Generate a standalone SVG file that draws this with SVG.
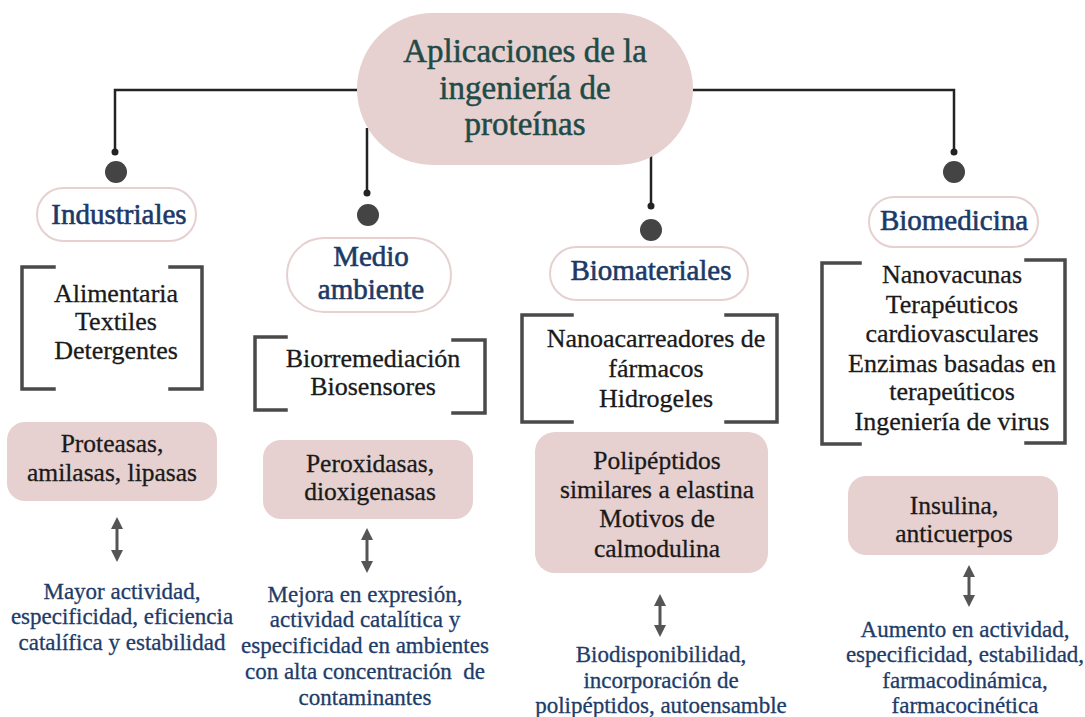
<svg xmlns="http://www.w3.org/2000/svg" width="1085" height="717" viewBox="0 0 1085 717">
<defs>
<style>
text{font-family:"Liberation Serif","Times New Roman",serif;text-anchor:middle}
.title{font-size:33px;fill:#1f4b47;stroke:#1f4b47;stroke-width:0.5}
.lbl{font-size:29px;fill:#1c3a67;stroke:#1c3a67;stroke-width:0.6}
.body{font-size:26px;fill:#1a1a1a;stroke:#1a1a1a;stroke-width:0.3}
.box{font-size:25.5px;fill:#1a1a1a;stroke:#1a1a1a;stroke-width:0.3}
.res{font-size:23px;fill:#1e3c69;stroke:#1e3c69;stroke-width:0.3}
.pill{fill:#ffffff;stroke:#e6d0d0;stroke-width:2}
.pink{fill:#e6d0d0}
.br{fill:none;stroke:#4a4a4a;stroke-width:3.5;stroke-linecap:square}
.con{fill:none;stroke:#232323;stroke-width:2.5}
.dot{fill:#444444}
.sdot{fill:#232323}
.arr{stroke:#555555;stroke-width:3;marker-start:url(#ah);marker-end:url(#ah)}
</style>
<marker id="ah" viewBox="0 0 12 12" refX="6" refY="6" markerWidth="12" markerHeight="12" markerUnits="userSpaceOnUse" orient="auto-start-reverse">
<path d="M0,0 L12,6 L0,12 z" fill="#555555"/>
</marker>
</defs>
<rect width="1085" height="717" fill="#ffffff"/>

<g id="connectors">
<path class="con" d="M357,90 H115 V152"/>
<path class="con" d="M367,128 V193"/>
<path class="con" d="M651,152 V206"/>
<path class="con" d="M693,90 H954 V152"/>
<circle class="sdot" cx="115" cy="152" r="3.5"/>
<circle class="sdot" cx="367" cy="193" r="3.5"/>
<circle class="sdot" cx="651" cy="206" r="3.5"/>
<circle class="sdot" cx="954" cy="152" r="3.5"/>
<circle class="dot" cx="116" cy="172" r="11"/>
<circle class="dot" cx="368" cy="215" r="11"/>
<circle class="dot" cx="651" cy="230" r="11"/>
<circle class="dot" cx="954" cy="172" r="11"/>
<line class="arr" x1="117" y1="523" x2="117" y2="556"/>
<line class="arr" x1="367" y1="534" x2="367" y2="567"/>
<line class="arr" x1="660" y1="600" x2="660" y2="631"/>
<line class="arr" x1="969" y1="571" x2="969" y2="601"/>
</g>

<g id="root">
<rect class="pink" x="357" y="13" width="336" height="152" rx="76"/>
<text class="title" x="525" y="62">Aplicaciones de la</text>
<text class="title" x="525" y="99">ingeniería de</text>
<text class="title" x="525" y="135">proteínas</text>
</g>

<g id="industriales">
<rect class="pill" x="37" y="188" width="159" height="53" rx="26.5"/>
<text class="lbl" x="119" y="224">Industriales</text>
</g>
<g id="industriales-areas">
<path class="br" d="M54,267 H22 V389 H54"/>
<path class="br" d="M170,267 H202 V389 H170"/>
<text class="body" x="116" y="302">Alimentaria</text>
<text class="body" x="116" y="330">Textiles</text>
<text class="body" x="116" y="359">Detergentes</text>
</g>
<g id="industriales-enzimas">
<rect class="pink" x="7" y="422" width="210" height="79" rx="18"/>
<text class="box" x="112" y="452">Proteasas,</text>
<text class="box" x="112" y="481">amilasas, lipasas</text>
</g>
<g id="industriales-mejoras">
<text class="res" x="122" y="599">Mayor actividad,</text>
<text class="res" x="122" y="624">especificidad, eficiencia</text>
<text class="res" x="122" y="650">catalífica y estabilidad</text>
</g>

<g id="medio">
<rect class="pill" x="287" y="238" width="164" height="74" rx="37"/>
<text class="lbl" x="371" y="266">Medio</text>
<text class="lbl" x="371" y="299">ambiente</text>
</g>
<g id="medio-areas">
<path class="br" d="M286,337 H255 V410 H286"/>
<path class="br" d="M453,340 H485 V413 H453"/>
<text class="body" x="373" y="367">Biorremediación</text>
<text class="body" x="373" y="395">Biosensores</text>
</g>
<g id="medio-enzimas">
<rect class="pink" x="263" y="440" width="210" height="79" rx="18"/>
<text class="box" x="370" y="472">Peroxidasas,</text>
<text class="box" x="370" y="500">dioxigenasas</text>
</g>
<g id="medio-mejoras">
<text class="res" x="365" y="602">Mejora en expresión,</text>
<text class="res" x="365" y="627">actividad catalítica y</text>
<text class="res" x="365" y="653">especificidad en ambientes</text>
<text class="res" x="365" y="679">con alta concentración&#160; de</text>
<text class="res" x="365" y="705">contaminantes</text>
</g>

<g id="biomateriales">
<rect class="pill" x="550" y="247" width="198" height="53" rx="26.5"/>
<text class="lbl" x="651" y="280">Biomateriales</text>
</g>
<g id="biomateriales-areas">
<path class="br" d="M572,315 H522 V422 H572"/>
<path class="br" d="M726,315 H777 V422 H726"/>
<text class="body" x="656" y="347">Nanoacarreadores de</text>
<text class="body" x="656" y="377">fármacos</text>
<text class="body" x="656" y="407">Hidrogeles</text>
</g>
<g id="biomateriales-proteinas">
<rect class="pink" x="535" y="432" width="233" height="141" rx="20"/>
<text class="box" x="657" y="469">Polipéptidos</text>
<text class="box" x="657" y="498">similares a elastina</text>
<text class="box" x="657" y="527">Motivos de</text>
<text class="box" x="657" y="557">calmodulina</text>
</g>
<g id="biomateriales-mejoras">
<text class="res" x="661" y="662">Biodisponibilidad,</text>
<text class="res" x="661" y="688">incorporación de</text>
<text class="res" x="661" y="713">polipéptidos, autoensamble</text>
</g>

<g id="biomedicina">
<rect class="pill" x="869" y="197" width="169" height="50" rx="25"/>
<text class="lbl" x="954" y="230">Biomedicina</text>
</g>
<g id="biomedicina-areas">
<path class="br" d="M860,263 H822 V444 H860"/>
<path class="br" d="M1026,260 H1065 V443 H1026"/>
<text class="body" x="952" y="283">Nanovacunas</text>
<text class="body" x="952" y="313">Terapéuticos</text>
<text class="body" x="952" y="342">cardiovasculares</text>
<text class="body" x="952" y="372">Enzimas basadas en</text>
<text class="body" x="952" y="400">terapeúticos</text>
<text class="body" x="952" y="430">Ingeniería de virus</text>
</g>
<g id="biomedicina-proteinas">
<rect class="pink" x="848" y="476" width="210" height="79" rx="18"/>
<text class="box" x="954" y="514">Insulina,</text>
<text class="box" x="954" y="542">anticuerpos</text>
</g>
<g id="biomedicina-mejoras">
<text class="res" x="965" y="637">Aumento en actividad,</text>
<text class="res" x="965" y="662">especificidad, estabilidad,</text>
<text class="res" x="965" y="688">farmacodinámica,</text>
<text class="res" x="965" y="713">farmacocinética</text>
</g>
</svg>
